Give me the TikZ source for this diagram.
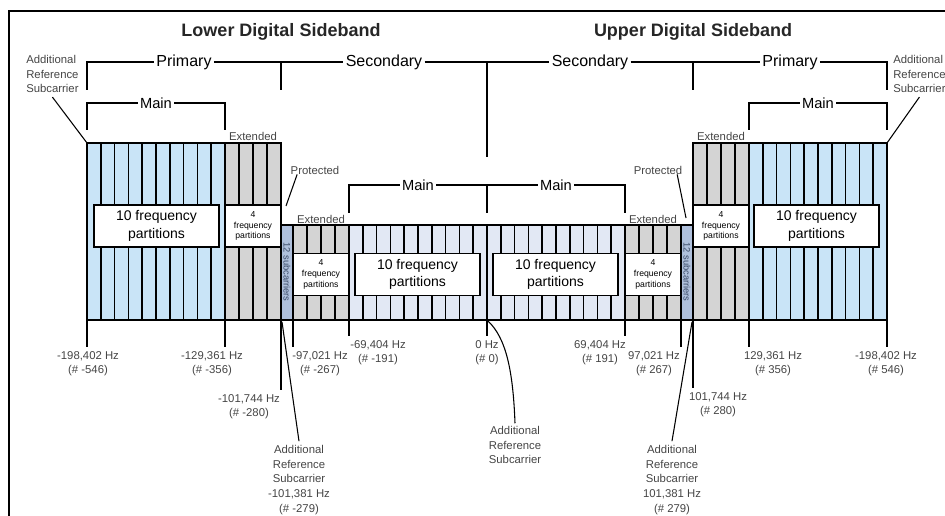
\documentclass[tikz,border=0pt]{standalone}
\usepackage{fontspec}
\setmainfont{Liberation Sans}
\usepackage{xcolor}
\usepackage{tikz}
\definecolor{primBlue}{HTML}{C9E4F7}
\definecolor{extGray}{HTML}{D4D4D4}
\definecolor{secBlue}{HTML}{E2E8F4}
\definecolor{protBlue}{HTML}{AFC0DC}
\definecolor{labelGray}{HTML}{454545}
\definecolor{protText}{HTML}{3A4A66}

\begin{document}
\begin{tikzpicture}[x=0.75pt,y=-0.75pt]

    \tikzset{
        stripe/.style={draw=black, line width=1.3pt},
        bracket/.style={draw=black, line width=1pt},
        leader/.style={draw=black, line width=0.8pt},
        partbox/.style={
            draw=black, line width=1.2pt, fill=white, align=center,
            inner sep=0pt, minimum height=31.5pt,
            font=\fontsize{10.5}{13}\selectfont
        },
        tinybox/.style={partbox, font=\fontsize{6.5}{8}\selectfont},
        brlabel/.style={fill=white, inner sep=1.5pt, font=\fontsize{12}{14}\selectfont},
        mainlabel/.style={brlabel, font=\fontsize{11}{13}\selectfont},
        smalllabel/.style={text=labelGray, align=center, inner sep=0pt, font=\fontsize{8.5}{11}\selectfont},
        sidetitle/.style={font=\fontsize{13.5}{16}\selectfont\bfseries, text=black!85}
    }

    \newcommand{\BandBlock}[5]{%
        \fill[#5] (#1,#3) rectangle (#2,320);
        \foreach \k in {0,...,#4}{
            \draw[stripe] ({#1+\k*(#2-#1)/#4},#3) -- ({#1+\k*(#2-#1)/#4},320);
        }
        \draw[stripe] (#1,#3) rectangle (#2,320);
    }

    \newcommand{\FreqTick}[5]{%
        \draw[stripe] (#2,320) -- (#2,#3);
        \node[smalllabel, anchor=north] (#1) at (#4,#3+4) {#5};
    }

    \useasboundingbox (0,0) rectangle (945,516);

    % frame
    \draw[line width=1.5pt] (9,516) -- (9,11) -- (945,11);

    \node[sidetitle] (lowerTitle) at (281,32) {Lower Digital Sideband};
    \node[sidetitle] (upperTitle) at (693,32) {Upper Digital Sideband};

    % sideband brackets
    \node[brlabel] (priL) at (184,62) {Primary};
    \node[brlabel] (secL) at (384,62) {Secondary};
    \node[brlabel] (secU) at (590,62) {Secondary};
    \node[brlabel] (priU) at (790,62) {Primary};
    \draw[bracket] (87,90) |- (priL.west);
    \draw[bracket] (priL.east) -- (secL.west);
    \draw[bracket] (secL.east) -- (secU.west);
    \draw[bracket] (secU.east) -- (priU.west);
    \draw[bracket] (priU.east) -| (887,90);
    \draw[bracket] (281,62) -- (281,90);
    \draw[bracket] (693,62) -- (693,90);
    \draw[bracket] (487,62) -- (487,157);

    \node[mainlabel] (mainPL) at (156,103) {Main};
    \node[mainlabel] (mainPU) at (818,103) {Main};
    \draw[bracket] (87,130) |- (mainPL.west);
    \draw[bracket] (mainPL.east) -| (225,130);
    \draw[bracket] (749,130) |- (mainPU.west);
    \draw[bracket] (mainPU.east) -| (887,130);

    \node[mainlabel] (mainSL) at (418,185) {Main};
    \node[mainlabel] (mainSU) at (556,185) {Main};
    \draw[bracket] (349,213) |- (mainSL.west);
    \draw[bracket] (mainSL.east) -- (mainSU.west);
    \draw[bracket] (mainSU.east) -| (625,213);
    \draw[bracket] (487,185) -- (487,213);

    % partitions
    \BandBlock{87}{225}{143}{10}{primBlue}
    \BandBlock{225}{281}{143}{4}{extGray}
    \BandBlock{281}{293}{225}{1}{protBlue}
    \BandBlock{293}{349}{225}{4}{extGray}
    \BandBlock{349}{487}{225}{10}{secBlue}
    \BandBlock{487}{625}{225}{10}{secBlue}
    \BandBlock{625}{681}{225}{4}{extGray}
    \BandBlock{681}{693}{225}{1}{protBlue}
    \BandBlock{693}{749}{143}{4}{extGray}
    \BandBlock{749}{887}{143}{10}{primBlue}

    \node[partbox, minimum width=93.75pt] (boxPL) at (156.5,226) {10 frequency\\partitions};
    \node[tinybox, minimum width=42pt] (boxEL) at (253,226) {4\\frequency\\partitions};
    \node[tinybox, minimum width=42pt] (boxSEL) at (321,274.5) {4\\frequency\\partitions};
    \node[partbox, minimum width=93.75pt] (boxSL) at (417.5,274.5) {10 frequency\\partitions};
    \node[partbox, minimum width=93.75pt] (boxSU) at (555.5,274.5) {10 frequency\\partitions};
    \node[tinybox, minimum width=42pt] (boxSEU) at (653,274.5) {4\\frequency\\partitions};
    \node[tinybox, minimum width=42pt] (boxEU) at (721,226) {4\\frequency\\partitions};
    \node[partbox, minimum width=93.75pt] (boxPU) at (816.5,226) {10 frequency\\partitions};

    \node[rotate=-90, inner sep=0pt, text=protText, font=\fontsize{7}{8}\selectfont] (subL) at (287,272) {12 subcarriers};
    \node[rotate=-90, inner sep=0pt, text=protText, font=\fontsize{7}{8}\selectfont] (subU) at (687,272) {12 subcarriers};

    \node[smalllabel] (extPL) at (253,136) {Extended};
    \node[smalllabel] (extPU) at (721,136) {Extended};
    \node[smalllabel] (extSL) at (321,219) {Extended};
    \node[smalllabel] (extSU) at (653,219) {Extended};

    \node[smalllabel] (protL) at (315,170) {Protected};
    \node[smalllabel] (protU) at (658,170) {Protected};
    \coordinate (protLend) at (286,206);
    \coordinate (protUend) at (686,218);
    \draw[leader] ([xshift=5pt]protL.south west) -- (protLend);
    \draw[leader] ([xshift=-4pt]protU.south east) -- (protUend);

    % frequency ticks
    \FreqTick{fLoPm}{87}{347}{88}{-198,402 Hz\\(\# -546)}
    \FreqTick{fLoPe}{225}{347}{212}{-129,361 Hz\\(\# -356)}
    \FreqTick{fLoPr}{281}{390}{249}{-101,744 Hz\\(\# -280)}
    \FreqTick{fLoSe}{293}{347}{320}{-97,021 Hz\\(\# -267)}
    \FreqTick{fLoSm}{349}{336}{378}{-69,404 Hz\\(\# -191)}
    \FreqTick{fZero}{487}{336}{487}{0 Hz\\(\# 0)}
    \FreqTick{fUpSm}{625}{336}{600}{69,404 Hz\\(\# 191)}
    \FreqTick{fUpSe}{681}{347}{654}{97,021 Hz\\(\# 267)}
    \FreqTick{fUpPr}{693}{388}{718}{101,744 Hz\\(\# 280)}
    \FreqTick{fUpPe}{749}{347}{773}{129,361 Hz\\(\# 356)}
    \FreqTick{fUpPm}{887}{347}{886}{-198,402 Hz\\(\# 546)}

    % additional reference subcarriers
    \node[smalllabel, align=left, anchor=west] (refTL) at (26,74) {Additional\\Reference\\Subcarrier};
    \node[smalllabel, align=left, anchor=west] (refTR) at (893,74) {Additional\\Reference\\Subcarrier};
    \coordinate (refTLend) at (87,143);
    \coordinate (refTRend) at (887,143);
    \draw[leader] ([yshift=-3pt]refTL.south) -- (refTLend);
    \draw[leader] ([yshift=-3pt]refTR.south) -- (refTRend);

    \node[smalllabel] (refBL) at (299,480) {Additional\\Reference\\Subcarrier\\-101,381 Hz\\(\# -279)};
    \node[smalllabel] (refBR) at (672,480) {Additional\\Reference\\Subcarrier\\101,381 Hz\\(\# 279)};
    \coordinate (refBLend) at (282,322);
    \coordinate (refBRend) at (692,322);
    \draw[leader] ([yshift=3pt]refBL.north) -- (refBLend);
    \draw[leader] ([yshift=3pt]refBR.north) -- (refBRend);

    \node[smalllabel] (refC) at (515,445) {Additional\\Reference\\Subcarrier};
    \coordinate (refCend) at (488,321);
    \draw[leader] ([yshift=2pt]refC.north) .. controls (513,370) and (506,338) .. (refCend);

\end{tikzpicture}
\end{document}
